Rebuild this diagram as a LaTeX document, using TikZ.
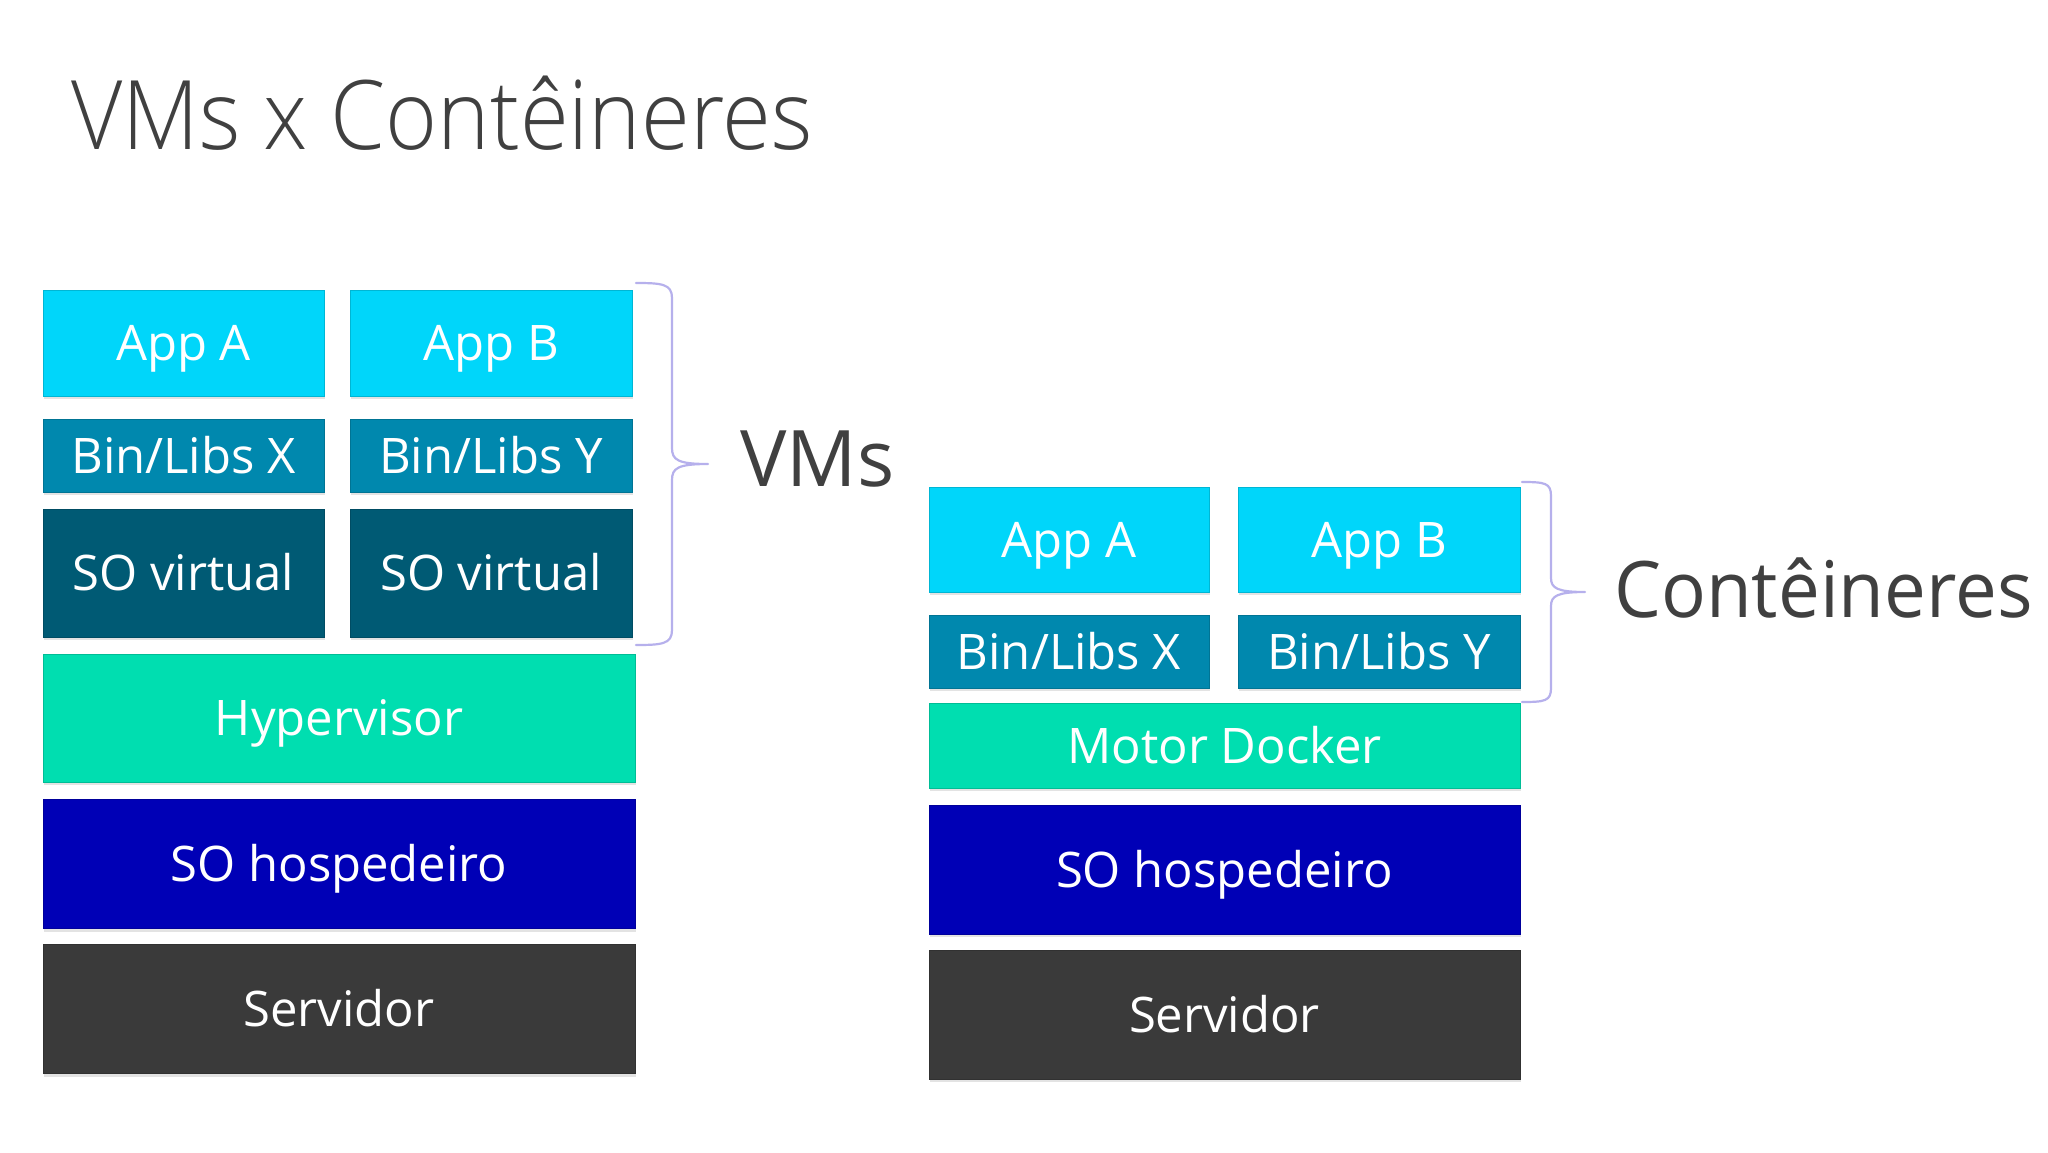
\documentclass[tikz,border=0pt]{standalone}
\usepackage{fontspec}
\setmainfont{Open Sans}
\IfFontExistsTF{Open Sans Light}{\newfontfamily\lightfont{Open Sans Light}}{\newfontfamily\lightfont{Open Sans}}
\usetikzlibrary{shadows}
\definecolor{appc}{RGB}{0,214,250}
\definecolor{binc}{RGB}{0,136,174}
\definecolor{sovc}{RGB}{0,90,116}
\definecolor{hypc}{RGB}{0,222,176}
\definecolor{sohc}{RGB}{0,0,182}
\definecolor{srvc}{RGB}{58,58,58}
\definecolor{bracec}{RGB}{182,176,236}
\definecolor{labelc}{RGB}{64,64,64}
\tikzset{
  layer/.style={rectangle, inner sep=0pt, outer sep=0pt, text=white,
    font=\fontsize{49}{60}\selectfont, text height=35pt, text depth=0pt,
    drop shadow={shadow xshift=1pt, shadow yshift=-3pt, opacity=0.22}},
  applayer/.style={layer, fill=appc, draw=appc!85!black, line width=0.8pt},
  binlayer/.style={layer, fill=binc, draw=binc!85!black, line width=0.8pt},
  sovlayer/.style={layer, fill=sovc, draw=sovc!85!black, line width=0.8pt},
  hyplayer/.style={layer, fill=hypc, draw=hypc!85!black, line width=0.8pt},
  sohlayer/.style={layer, fill=sohc, draw=sohc!85!black, line width=0.8pt},
  srvlayer/.style={layer, fill=srvc, draw=srvc!85!black, line width=0.8pt},
  bracepath/.style={draw=bracec, line width=2.2pt, line cap=round, line join=round},
  biglabel/.style={text=labelc, inner sep=0pt, anchor=base west, font=\fontsize{78}{90}\selectfont}
}
\begin{document}
\begin{tikzpicture}[x=1pt, y=-1pt]
\fill[white] (0,0) rectangle (2048,1152);
\useasboundingbox (0,0) rectangle (2048,1152);

% title
\node[text=labelc, inner sep=0pt, anchor=base west, font=\lightfont\fontsize{96}{110}\selectfont] (title) at (71,149) {\scalebox{0.925}[1]{VMs x Contêineres}};

% left stack (VMs)
\node[applayer, minimum width=281pt, minimum height=106pt] (appA1) at (183.5,343) {App A};
\node[applayer, minimum width=282pt, minimum height=106pt] (appB1) at (491,343) {App B};
\node[binlayer, minimum width=281pt, minimum height=73pt] (binX1) at (183.5,455.5) {Bin/Libs X};
\node[binlayer, minimum width=282pt, minimum height=73pt] (binY1) at (491,455.5) {Bin/Libs Y};
\node[sovlayer, minimum width=281pt, minimum height=128pt] (soVA) at (183.5,573) {SO virtual};
\node[sovlayer, minimum width=282pt, minimum height=128pt] (soVB) at (491,573) {SO virtual};
\node[hyplayer, minimum width=592pt, minimum height=128pt] (hyp) at (339,718) {Hypervisor};
\node[sohlayer, minimum width=592pt, minimum height=129pt] (soH1) at (339,864) {SO hospedeiro};
\node[srvlayer, minimum width=592pt, minimum height=129pt] (srv1) at (339,1009) {Servidor};

% left brace
\draw[bracepath] (636,283) .. controls (662,283) and (672,284) .. (672,298) -- (672,448)
  .. controls (672,460) and (678,464) .. (708,464)
  .. controls (678,464) and (672,468) .. (672,480) -- (672,630)
  .. controls (672,644) and (662,645) .. (636,645);
\node[biglabel] (vms) at (740,486) {VMs};

% right stack (containers)
\node[applayer, minimum width=280pt, minimum height=105pt] (appA2) at (1069,539.5) {App A};
\node[applayer, minimum width=282pt, minimum height=105pt] (appB2) at (1379,539.5) {App B};
\node[binlayer, minimum width=280pt, minimum height=73pt] (binX2) at (1069,651.5) {Bin/Libs X};
\node[binlayer, minimum width=282pt, minimum height=73pt] (binY2) at (1379,651.5) {Bin/Libs Y};
\node[hyplayer, minimum width=591pt, minimum height=85pt] (motor) at (1224.5,745.5) {Motor Docker};
\node[sohlayer, minimum width=591pt, minimum height=129pt] (soH2) at (1224.5,869.5) {SO hospedeiro};
\node[srvlayer, minimum width=591pt, minimum height=129pt] (srv2) at (1224.5,1014.5) {Servidor};

% right brace
\draw[bracepath] (1522,482) .. controls (1545,482) and (1551,483) .. (1551,496) -- (1551,578)
  .. controls (1551,588) and (1557,592) .. (1585,592)
  .. controls (1557,592) and (1551,596) .. (1551,606) -- (1551,688)
  .. controls (1551,701) and (1545,702) .. (1522,702);
\node[biglabel] (cont) at (1614,617) {\scalebox{0.955}[1]{Contêineres}};
\end{tikzpicture}
\end{document}
